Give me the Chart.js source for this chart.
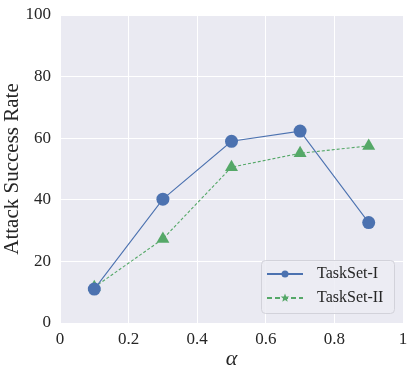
<!DOCTYPE html>
<html><head><meta charset="utf-8">
<script src="https://cdn.jsdelivr.net/npm/chart.js@4/dist/chart.umd.min.js"></script>
<style>html,body{margin:0;padding:0;background:#fff;}#wrap{width:415px;height:374px;}</style>
</head><body><div id="wrap"><canvas id="c" width="415" height="374"></canvas></div>
<script>
const alphas = [0.1, 0.3, 0.5, 0.7, 0.9];
const taskSet1 = [11, 40.2, 59, 62.3, 32.6];
const taskSet2 = [11.6, 27.3, 50.6, 55.1, 57.5];
const seriesNames = ['TaskSet-I', 'TaskSet-II'];
const xTicks = [0, 0.2, 0.4, 0.6, 0.8, 1];
const yTicks = [0, 20, 40, 60, 80, 100];

const FONT = "'Liberation Serif', 'DejaVu Serif', serif";
const BLUE = '#4C72B0', GREEN = '#55A868';

const bgPlugin = {
  id: 'bg',
  beforeDraw(chart) {
    const {ctx, chartArea: a} = chart;
    ctx.save(); ctx.fillStyle = '#EAEAF2';
    ctx.fillRect(a.left, a.top, a.right - a.left, a.bottom - a.top);
    ctx.restore();
  }
};
const legendPlugin = {
  id: 'customLegend',
  afterDraw(chart) {
    const ctx = chart.ctx;
    const x0 = 261, y0 = 260, w = 133, h = 53;
    ctx.save();
    ctx.beginPath();
    ctx.roundRect(x0 + 0.5, y0 + 0.5, w, h, 4);
    ctx.fillStyle = 'rgba(236,236,243,0.85)';
    ctx.fill();
    ctx.strokeStyle = '#d2d2da'; ctx.lineWidth = 1; ctx.stroke();
    chart.data.datasets.forEach((ds, i) => {
      const y = y0 + 14 + i * 24;
      ctx.strokeStyle = ds.borderColor; ctx.lineWidth = 2;
      ctx.setLineDash(i === 1 ? [5, 3] : []);
      ctx.beginPath(); ctx.moveTo(x0 + 6, y); ctx.lineTo(x0 + 42, y); ctx.stroke();
      ctx.setLineDash([]);
      ctx.fillStyle = ds.borderColor;
      if (i === 0) { ctx.beginPath(); ctx.arc(x0 + 24, y, 3.5, 0, Math.PI * 2); ctx.fill(); }
      else {
        ctx.beginPath();
        for (let k = 0; k < 10; k++) {
          const r = k % 2 === 0 ? 4.5 : 2;
          const ang = -Math.PI / 2 + k * Math.PI / 5;
          const px = x0 + 24 + r * Math.cos(ang), py = y + r * Math.sin(ang);
          k === 0 ? ctx.moveTo(px, py) : ctx.lineTo(px, py);
        }
        ctx.closePath(); ctx.fill();
      }
      ctx.fillStyle = '#262626'; ctx.font = '16px ' + FONT;
      ctx.textBaseline = 'middle'; ctx.textAlign = 'left';
      ctx.fillText(ds.label, x0 + 56, y);
    });
    ctx.restore();
  }
};

new Chart(document.getElementById('c'), {
  type: 'line',
  data: {
    datasets: [
      { label: seriesNames[0], data: alphas.map((x, i) => ({x, y: taskSet1[i]})),
        borderColor: BLUE, backgroundColor: BLUE, borderWidth: 1.1,
        pointStyle: 'circle', pointRadius: 6.5, pointHoverRadius: 6.5, pointBorderWidth: 0, tension: 0 },
      { label: seriesNames[1], data: alphas.map((x, i) => ({x, y: taskSet2[i]})),
        borderColor: GREEN, backgroundColor: GREEN, borderWidth: 1.1, borderDash: [3, 2],
        pointStyle: 'triangle', pointRadius: 7.5, pointHoverRadius: 7.5, pointBorderWidth: 0, tension: 0 }
    ]
  },
  options: {
    responsive: false, animation: false, devicePixelRatio: 1,
    layout: { padding: { top: 15, right: 12, left: 0, bottom: 0 } },
    plugins: { legend: { display: false }, tooltip: { enabled: false } },
    scales: {
      x: {
        type: 'linear', min: 0, max: 1,
        afterBuildTicks(s) { s.ticks = xTicks.map(v => ({value: v})); },
        afterFit(s) { s.height = 51; s.paddingLeft = 0; s.paddingRight = 0; },
        grid: { color: '#ffffff', lineWidth: 1, drawTicks: false },
        border: { display: false },
        ticks: { color: '#262626', font: { family: FONT, size: 17 }, padding: 6, maxRotation: 0,
                 callback: v => String(v) },
        title: { display: true, text: 'α', color: '#262626', font: { family: FONT, size: 22, style: 'italic' }, padding: { top: 0, bottom: 2 } }
      },
      y: {
        min: 0, max: 100,
        afterBuildTicks(s) { s.ticks = yTicks.map(v => ({value: v})); },
        afterFit(s) { s.width = 60; s.paddingTop = 0; s.paddingBottom = 0; },
        grid: { color: '#ffffff', lineWidth: 1, drawTicks: false },
        border: { display: false },
        ticks: { color: '#262626', font: { family: FONT, size: 17 }, padding: 9 },
        title: { display: true, text: 'Attack Success Rate', color: '#262626', font: { family: FONT, size: 21 }, padding: { top: 0, bottom: 2 } }
      }
    }
  },
  plugins: [bgPlugin, legendPlugin]
});
</script></body></html>
